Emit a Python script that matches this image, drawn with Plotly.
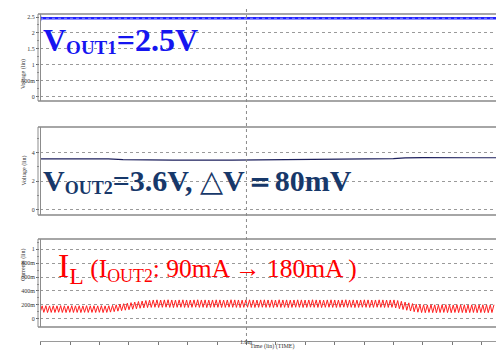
import plotly.graph_objects as go

W, H = 496, 352

# ---- time axis (ms) ----
t_left, t_right = 0.2976, 1.849
t_tick0, t_dtick = 0.3, 0.1
cursor_t = 1.0

# ---- VOUT1 (V) ----
vout1_t = [0.2976, 0.60, 0.90, 1.20, 1.50, 1.849]
vout1_v = [2.46, 2.46, 2.46, 2.46, 2.46, 2.46]

# ---- VOUT2 (V) ----
vout2_t = [0.2976, 0.45, 0.53, 0.58, 0.65, 0.75, 0.95, 1.15, 1.30, 1.45, 1.50, 1.54, 1.60, 1.75, 1.849]
vout2_v = [3.56, 3.56, 3.55, 3.50, 3.47, 3.46, 3.47, 3.49, 3.52, 3.53, 3.57, 3.62, 3.64, 3.63, 3.63]

# ---- inductor current: valley / peak of each switching cycle (mA) ----
sw_t0 = 0.298
sw_period = 0.0126
il_valley_mA = [
    90, 92, 89, 91, 90, 93, 90, 89, 92, 90, 91, 89, 92, 90, 91, 90, 92, 89, 91,
    95, 102, 109, 116, 123, 130, 137, 144, 151, 157, 161,
    163, 165, 162, 164, 166, 163, 161, 164, 165, 163, 162, 164, 166, 163, 164, 161, 163, 165, 164, 162,
    163, 166, 164, 163, 161, 164, 165, 163, 162, 164, 165, 163, 164, 162, 166, 163, 164, 161, 163, 165,
    164, 162, 163, 166, 164, 163, 161, 164, 165, 163, 162, 164, 166, 163, 164, 161, 163, 165, 164, 162,
    163, 165, 164, 162, 163, 164,
    155, 144, 133, 122, 111, 101, 94,
    89, 87, 90, 88, 86, 89, 91, 88, 87, 90, 88, 89, 86, 88, 90, 87, 89, 88, 87, 89,
]
il_peak_mA = [
    186, 188, 185, 187, 186, 189, 186, 185, 188, 186, 187, 185, 188, 186, 187, 186, 188, 185, 187,
    192, 200, 208, 216, 224, 232, 240, 248, 255, 262, 267,
    270, 272, 269, 271, 273, 270, 268, 271, 272, 270, 269, 271, 273, 270, 271, 268, 270, 272, 271, 269,
    270, 273, 271, 270, 268, 271, 272, 270, 269, 271, 272, 270, 271, 269, 273, 270, 271, 268, 270, 272,
    271, 269, 270, 273, 271, 270, 268, 271, 272, 270, 269, 271, 273, 270, 271, 268, 270, 272, 271, 269,
    270, 272, 271, 269, 270, 271,
    262, 251, 240, 229, 218, 209, 203,
    201, 199, 202, 200, 198, 201, 203, 200, 199, 202, 200, 201, 198, 200, 202, 199, 201, 200, 199, 201,
]

il_t, il_a = [], []
for i, (lo, hi) in enumerate(zip(il_valley_mA, il_peak_mA)):
    il_t += [sw_t0 + i * sw_period, sw_t0 + (i + 0.55) * sw_period]
    il_a += [lo / 1000.0, hi / 1000.0]

# ---- tick labels ----
v1_ticks = [0, 0.5, 1, 1.5, 2, 2.5]
v1_text = ["0", "500m", "1", "1.5", "2", "2.5"]
v2_ticks = [0, 2, 4]
v2_text = ["0", "2", "4"]
i_ticks = [0, 0.2, 0.4, 0.6, 0.8, 1.0]
i_text = ["0", "200m", "400m", "600m", "800m", "1"]


def px(x):
    return x / W


def py(y):
    return 1 - y / H


# panel pixel extents (top, bottom)
panels = [(14, 101), (127, 215), (239, 327)]
x_left = 40

fig = go.Figure()
fig.add_trace(go.Scatter(x=vout1_t, y=vout1_v, mode="lines", xaxis="x", yaxis="y",
                         line=dict(color="#2222ff", width=2.6), hoverinfo="skip"))
fig.add_trace(go.Scatter(x=vout1_t, y=vout1_v, mode="lines", xaxis="x", yaxis="y",
                         line=dict(color="#8a8aff", width=1, dash="dot"), hoverinfo="skip"))
fig.add_trace(go.Scatter(x=[vout1_t[0]], y=[vout1_v[0]], mode="markers", xaxis="x", yaxis="y",
                         marker=dict(symbol="triangle-left", size=5, color="#2222ff"), hoverinfo="skip"))
fig.add_trace(go.Scatter(x=vout2_t, y=vout2_v, mode="lines", xaxis="x2", yaxis="y2",
                         line=dict(color="#1c1f5c", width=1.2), hoverinfo="skip"))
fig.add_trace(go.Scatter(x=[vout2_t[0]], y=[vout2_v[0]], mode="markers", xaxis="x2", yaxis="y2",
                         marker=dict(symbol="triangle-left", size=4, color="#1c1f5c"), hoverinfo="skip"))
fig.add_trace(go.Scatter(x=il_t, y=il_a, mode="lines", xaxis="x3", yaxis="y3",
                         line=dict(color="#ff2020", width=1), hoverinfo="skip"))

common_x = dict(domain=[px(x_left), 1], range=[t_left, t_right], showgrid=False,
                zeroline=False, showticklabels=False)
tickfont = dict(family="Liberation Serif", size=6, color="#333333")
small_font = dict(family="Liberation Serif", size=6, color="#333333")


def yaxis(dom, rng, tv, tt, minor_vals):
    return dict(domain=dom, range=rng, tickmode="array", tickvals=tv, ticktext=tt,
                ticks="outside", ticklen=3, tickcolor="#666666", tickwidth=1,
                tickfont=tickfont, showgrid=True, gridcolor="#9a9a9a", griddash="dot",
                gridwidth=1, zeroline=False, showline=False,
                minor=dict(tickmode="array", tickvals=minor_vals, ticks="outside",
                           ticklen=2, tickcolor="#888888", showgrid=False))


fig.update_layout(
    width=W, height=H, margin=dict(l=0, r=0, t=0, b=0),
    paper_bgcolor="white", plot_bgcolor="white", showlegend=False,
    xaxis=dict(anchor="y", **common_x),
    xaxis2=dict(anchor="y2", **common_x),
    xaxis3=dict(anchor="free", position=py(341), showline=True, linecolor="#9a9a9a",
                linewidth=1, ticks="outside", ticklen=3, tickcolor="#777777",
                tickmode="linear", tick0=t_tick0, dtick=t_dtick, **common_x),
    yaxis=yaxis([py(101), py(14)], [-0.135, 2.594], v1_ticks, v1_text,
                [0.25, 0.75, 1.25, 1.75, 2.25]),
    yaxis2=yaxis([py(215), py(127)], [-0.35, 5.77], v2_ticks, v2_text, [1, 3, 5]),
    yaxis3=yaxis([py(327), py(239)], [-0.119, 1.148], i_ticks, i_text,
                 [0.1, 0.3, 0.5, 0.7, 0.9, 1.1]),
)

# panel frames
shapes = []
for top, bot in panels:
    for yy in (top, bot):
        shapes.append(dict(type="line", xref="paper", yref="paper", x0=px(38), x1=1,
                           y0=py(yy), y1=py(yy), line=dict(color="#a6a6a6", width=2)))
    for xx in (38, 40.5):
        shapes.append(dict(type="line", xref="paper", yref="paper", x0=px(xx), x1=px(xx),
                           y0=py(top), y1=py(bot), line=dict(color="#8c8c8c", width=1)))
# time cursor
shapes.append(dict(type="line", xref="x3", yref="paper", x0=cursor_t, x1=cursor_t,
                   y0=py(342), y1=py(8), line=dict(color="#8a8a8a", width=1, dash="dot")))
fig.update_layout(shapes=shapes)

ann = []
# axis captions
for top, bot, label in [(14, 101, "Voltage (lin)"), (127, 215, "Voltage (lin)"),
                        (239, 327, "Currents (lin)")]:
    ann.append(dict(text=label, x=px(18), y=py((top + bot) / 2), xref="paper", yref="paper",
                    textangle=-90, showarrow=False, font=small_font))
ann.append(dict(text="1.0m", x=cursor_t, xref="x3", y=py(344.5), yref="paper", showarrow=False,
                borderpad=0, borderwidth=0, font=small_font))
ann.append(dict(text="Time (lin) (TIME)", x=px(272), y=py(350), xref="paper", yref="paper",
                showarrow=False, borderpad=0, borderwidth=0, font=small_font))

# slide captions
ann.append(dict(
    text="<b>V<span style='font-size:19px;baseline-shift:-3px'>OUT1</span>=2.5V</b>",
    x=px(43), y=py(58), xref="paper", yref="paper", xanchor="left", yanchor="bottom",
    showarrow=False, borderpad=0, borderwidth=0,
    font=dict(family="Liberation Serif", size=32, color="#1515f0")))
ann.append(dict(
    text="<b>V<span style='font-size:18px;baseline-shift:-3px'>OUT2</span>=3.6V, </b>△<b>V＝80mV</b>",
    x=px(43), y=py(198), xref="paper", yref="paper", xanchor="left", yanchor="bottom",
    showarrow=False, borderpad=0, borderwidth=0,
    font=dict(family="Liberation Serif", size=30, color="#17386a")))
ann.append(dict(
    text="I<sub>L</sub><span style='font-size:25.5px'> (I<sub>OUT2</sub>: 90mA → 180mA )</span>",
    x=px(58), y=py(289), xref="paper", yref="paper", xanchor="left", yanchor="bottom",
    showarrow=False, borderpad=0, borderwidth=0,
    font=dict(family="Liberation Serif", size=34, color="#ff0000")))
fig.update_layout(annotations=ann)

fig.write_html("out.html")
